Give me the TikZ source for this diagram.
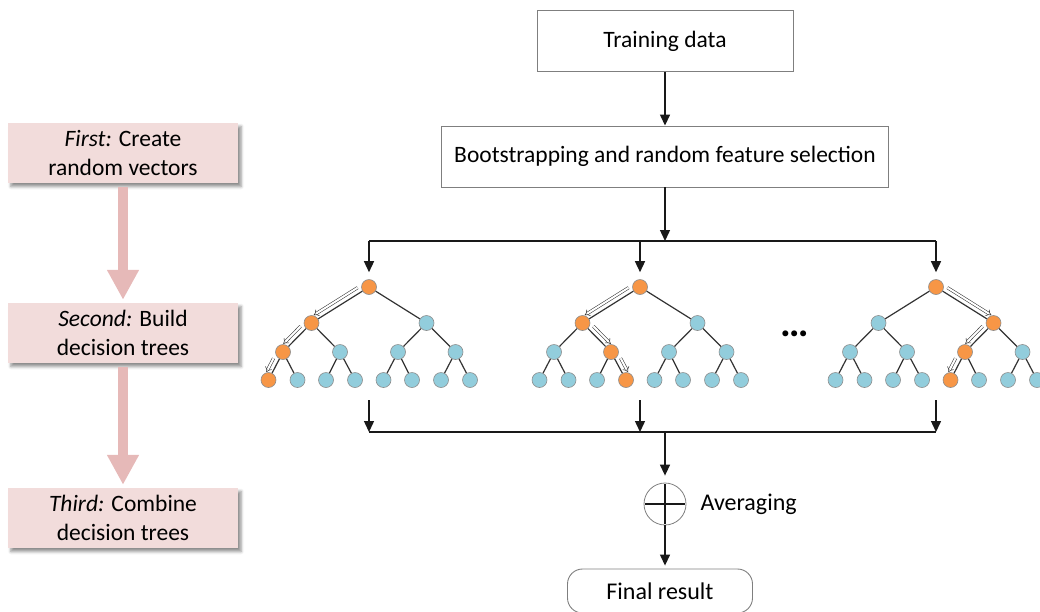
\documentclass[tikz,border=0pt]{standalone}
\usepackage{fontspec}
\setmainfont{Carlito}
\usetikzlibrary{arrows.meta,calc,shadows.blur}
\definecolor{boxpink}{HTML}{F2DCDB}
\definecolor{arrpink}{HTML}{E6B9B8}
\definecolor{orng}{HTML}{F79646}
\definecolor{aqua}{HTML}{92CDDC}
\definecolor{edgec}{HTML}{333333}
\definecolor{bordc}{HTML}{7F7F7F}
\tikzset{
  flowbox/.style={draw=bordc, line width=0.9pt, fill=white, minimum height=61pt, inner sep=0pt, font=\fontsize{23.5}{28}\selectfont},
  stagebox/.style={fill=boxpink, minimum width=230pt, minimum height=60pt, align=center, inner sep=0pt,
     font=\fontsize{23.5}{29}\selectfont,
     blur shadow={shadow xshift=3pt, shadow yshift=-3.5pt, shadow blur radius=3pt, shadow opacity=45}},
  stagearrow/.style={draw=arrpink, line width=10pt, -{Triangle[length=30pt,width=30pt]}},
  conn/.style={draw=black!90, line width=1.4pt},
  arr/.style={conn, -{Triangle[length=11pt,width=10pt]}},
  tnode/.style={circle, draw=black!45, line width=0.6pt, fill=aqua, minimum size=15pt, inner sep=0pt},
  onode/.style={fill=orng},
  tedge/.style={draw=edgec, line width=1.2pt},
  flowarrow/.style={draw=black!80, double, double distance=2pt, line width=0.55pt, -{Implies}},
  lbl/.style={font=\fontsize{24}{28}\selectfont},
  finalbox/.style={draw=bordc, line width=0.9pt, rounded corners=15pt, minimum width=185pt, minimum height=44pt, inner sep=0pt, font=\fontsize{24}{28}\selectfont},
  sumnode/.style={circle, draw=bordc, line width=0.8pt, minimum size=42pt, inner sep=0pt},
  plusline/.style={draw=black!90, line width=1.1pt, shorten <=1.5pt, shorten >=1.5pt},
}
\newcommand\rftree[2]{%
  \node[tnode,hl/#1r/.try] (#1r) at (#2,287) {};
  \node[tnode,hl/#1a/.try] (#1a) at ({#2-57.5},323) {};
  \node[tnode,hl/#1b/.try] (#1b) at ({#2+57.5},323) {};
  \node[tnode,hl/#1aa/.try] (#1aa) at ({#2-86},352) {};
  \node[tnode,hl/#1ab/.try] (#1ab) at ({#2-29},352) {};
  \node[tnode,hl/#1ba/.try] (#1ba) at ({#2+29},352) {};
  \node[tnode,hl/#1bb/.try] (#1bb) at ({#2+86.5},352) {};
  \node[tnode,hl/#1aaa/.try] (#1aaa) at ({#2-100.5},380) {};
  \node[tnode,hl/#1aab/.try] (#1aab) at ({#2-71.5},380) {};
  \node[tnode,hl/#1aba/.try] (#1aba) at ({#2-43},380) {};
  \node[tnode,hl/#1abb/.try] (#1abb) at ({#2-14},380) {};
  \node[tnode,hl/#1baa/.try] (#1baa) at ({#2+14.5},380) {};
  \node[tnode,hl/#1bab/.try] (#1bab) at ({#2+43},380) {};
  \node[tnode,hl/#1bba/.try] (#1bba) at ({#2+72},380) {};
  \node[tnode,hl/#1bbb/.try] (#1bbb) at ({#2+101},380) {};
  \foreach \p/\c in {r/a,r/b,a/aa,a/ab,b/ba,b/bb,aa/aaa,aa/aab,ab/aba,ab/abb,ba/baa,ba/bab,bb/bba,bb/bbb}
    \draw[tedge] (#1\p) -- (#1\c);
}
\newcommand\flowarr[4]{\draw[flowarrow] ($(#1)!10pt!(#2)!5.5pt!#3:(#2)$) -- ($(#2)!6pt!(#1)!5.5pt!#4:(#1)$);}
\begin{document}
\begin{tikzpicture}[x=1pt,y=-1pt]
\useasboundingbox (0,0) rectangle (1040,611);
% left column
\node[stagebox] (st1) at (123,153) {\textit{First:} Create\\random vectors};
\node[stagebox] (st2) at (123,333) {\textit{Second:} Build\\decision trees};
\node[stagebox] (st3) at (123,518) {\textit{Third:} Combine\\decision trees};
\draw[stagearrow, shorten <=4pt, shorten >=3pt] (st1) -- (st2);
\draw[stagearrow, shorten <=4pt, shorten >=3pt] (st2) -- (st3);
% flow
\node[flowbox, minimum width=256pt] (train) at (665,41) {Training data};
\node[flowbox, minimum width=447pt] (boot) at (665,156.5) {Bootstrapping and random feature selection};
\coordinate (sm) at (665,241);
\coordinate (s1) at (369,241);
\coordinate (s2) at (640,241);
\coordinate (s3) at (936,241);
\draw[arr] (train) -- (boot);
\draw[arr] (boot) -- (sm);
\draw[conn] (s1) -- (s3);
% trees
\tikzset{hl/pr/.style=onode, hl/pa/.style=onode, hl/paa/.style=onode, hl/paaa/.style=onode,
         hl/qr/.style=onode, hl/qa/.style=onode, hl/qab/.style=onode, hl/qabb/.style=onode,
         hl/ur/.style=onode, hl/ub/.style=onode, hl/uba/.style=onode, hl/ubaa/.style=onode}
\rftree{p}{369}
\rftree{q}{640}
\rftree{u}{936}
\draw[arr, shorten >=7pt] (s1) -- (pr);
\draw[arr, shorten >=7pt] (s2) -- (qr);
\draw[arr, shorten >=7pt] (s3) -- (ur);
\flowarr{pr}{pa}{-90}{90}
\flowarr{pa}{paa}{-90}{90}
\flowarr{paa}{paaa}{-90}{90}
\flowarr{qr}{qa}{-90}{90}
\flowarr{qa}{qab}{90}{-90}
\flowarr{qab}{qabb}{90}{-90}
\flowarr{ur}{ub}{90}{-90}
\flowarr{ub}{uba}{-90}{90}
\flowarr{uba}{ubaa}{-90}{90}
\node[font=\fontsize{40}{40}\selectfont\bfseries, anchor=base, inner sep=0pt] (dots) at (795,336) {…};
% combine
\coordinate (e1t) at (369,400);
\coordinate (e2t) at (640,400);
\coordinate (e3t) at (936,400);
\coordinate (e1) at (369,432);
\coordinate (e2) at (640,432);
\coordinate (e3) at (936,432);
\coordinate (em) at (665,432);
\draw[arr] (e1t) -- (e1);
\draw[arr] (e2t) -- (e2);
\draw[arr] (e3t) -- (e3);
\draw[conn] (e1) -- (e3);
\node[sumnode] (avg) at (665,504) {};
\draw[plusline] (avg.north) -- (avg.south);
\draw[plusline] (avg.west) -- (avg.east);
\node[lbl, anchor=west] (avglbl) at (697,504) {Averaging};
\draw[arr, shorten >=7pt] (em) -- (avg);
\node[finalbox] (final) at (660,591) {Final result};
\draw[arr, shorten >=3pt] (avg.south) -- (avg.south |- final.north);
\end{tikzpicture}
\end{document}
